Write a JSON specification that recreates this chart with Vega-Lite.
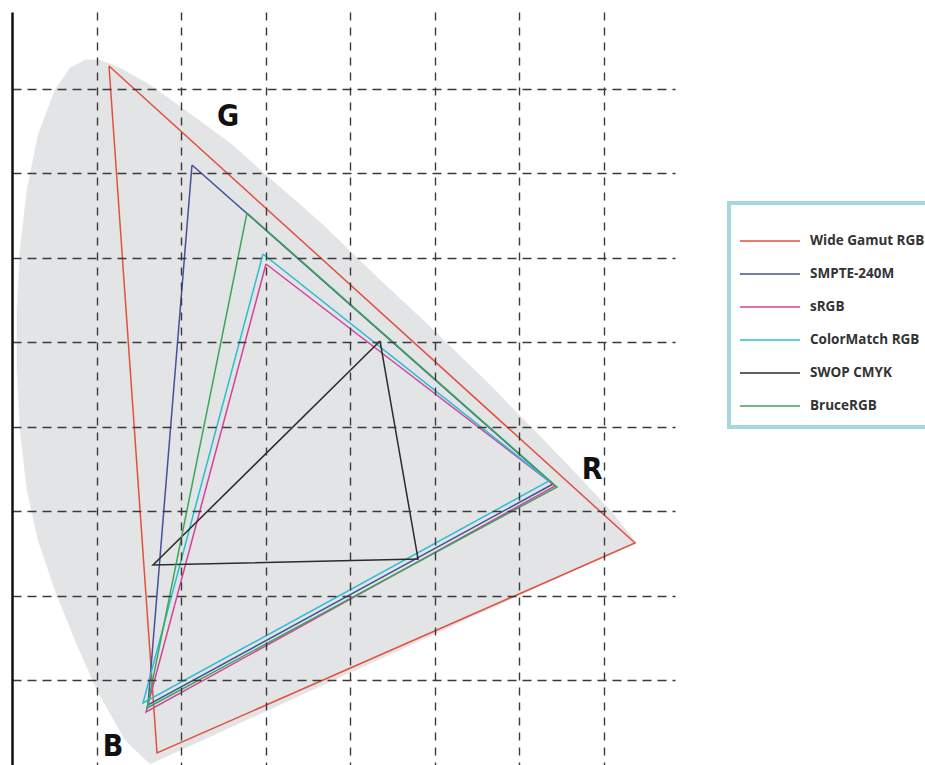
{
  "$schema": "https://vega.github.io/schema/vega-lite/v6.json",
  "width": 663,
  "height": 753,
  "autosize": {"type": "none"},
  "padding": {"left": 12, "top": 12, "right": 250, "bottom": 0},
  "background": "white",
  "config": {
    "view": {"stroke": null}
  },
  "datasets": {
    "locus": [
      {"i": 0, "x": 0.1633, "y": 0.0012},
      {"i": 1, "x": 0.1337, "y": 0.0296},
      {"i": 2, "x": 0.1006, "y": 0.0888},
      {"i": 3, "x": 0.0746, "y": 0.1479},
      {"i": 4, "x": 0.0509, "y": 0.2071},
      {"i": 5, "x": 0.0308, "y": 0.2663},
      {"i": 6, "x": 0.0178, "y": 0.3254},
      {"i": 7, "x": 0.0095, "y": 0.3964},
      {"i": 8, "x": 0.0059, "y": 0.4675},
      {"i": 9, "x": 0.0059, "y": 0.5385},
      {"i": 10, "x": 0.0095, "y": 0.6095},
      {"i": 11, "x": 0.0178, "y": 0.6805},
      {"i": 12, "x": 0.0308, "y": 0.7456},
      {"i": 13, "x": 0.0509, "y": 0.7988},
      {"i": 14, "x": 0.0686, "y": 0.8249},
      {"i": 15, "x": 0.0864, "y": 0.8343},
      {"i": 16, "x": 0.1041, "y": 0.8343},
      {"i": 17, "x": 0.1278, "y": 0.8249},
      {"i": 18, "x": 0.1633, "y": 0.8047},
      {"i": 19, "x": 0.2012, "y": 0.7775},
      {"i": 20, "x": 0.2580, "y": 0.7361},
      {"i": 21, "x": 0.3006, "y": 0.6982},
      {"i": 22, "x": 0.3645, "y": 0.6426},
      {"i": 23, "x": 0.4355, "y": 0.5740},
      {"i": 24, "x": 0.4864, "y": 0.5266},
      {"i": 25, "x": 0.5657, "y": 0.4497},
      {"i": 26, "x": 0.6521, "y": 0.3609},
      {"i": 27, "x": 0.7077, "y": 0.3018},
      {"i": 28, "x": 0.7385, "y": 0.2639},
      {"i": 29, "x": 0.1633, "y": 0.0012}
    ],
    "gamuts": [
      {"series": "Wide Gamut RGB", "i": 0, "x": 0.1148, "y": 0.8272},
      {"series": "Wide Gamut RGB", "i": 1, "x": 0.7373, "y": 0.2627},
      {"series": "Wide Gamut RGB", "i": 2, "x": 0.1716, "y": 0.0142},
      {"series": "Wide Gamut RGB", "i": 3, "x": 0.1148, "y": 0.8272},
      {"series": "SMPTE-240M", "i": 0, "x": 0.2130, "y": 0.7101},
      {"series": "SMPTE-240M", "i": 1, "x": 0.6402, "y": 0.3325},
      {"series": "SMPTE-240M", "i": 2, "x": 0.1609, "y": 0.0710},
      {"series": "SMPTE-240M", "i": 3, "x": 0.2130, "y": 0.7101},
      {"series": "sRGB", "i": 0, "x": 0.3006, "y": 0.5929},
      {"series": "sRGB", "i": 1, "x": 0.6426, "y": 0.3302},
      {"series": "sRGB", "i": 2, "x": 0.1586, "y": 0.0627},
      {"series": "sRGB", "i": 3, "x": 0.3006, "y": 0.5929},
      {"series": "ColorMatch RGB", "i": 0, "x": 0.2970, "y": 0.6047},
      {"series": "ColorMatch RGB", "i": 1, "x": 0.6355, "y": 0.3361},
      {"series": "ColorMatch RGB", "i": 2, "x": 0.1550, "y": 0.0734},
      {"series": "ColorMatch RGB", "i": 3, "x": 0.2970, "y": 0.6047},
      {"series": "SWOP CMYK", "i": 0, "x": 0.4355, "y": 0.5018},
      {"series": "SWOP CMYK", "i": 1, "x": 0.4805, "y": 0.2438},
      {"series": "SWOP CMYK", "i": 2, "x": 0.1669, "y": 0.2367},
      {"series": "SWOP CMYK", "i": 3, "x": 0.4355, "y": 0.5018},
      {"series": "BruceRGB", "i": 0, "x": 0.2781, "y": 0.6533},
      {"series": "BruceRGB", "i": 1, "x": 0.6450, "y": 0.3290},
      {"series": "BruceRGB", "i": 2, "x": 0.1598, "y": 0.0675},
      {"series": "BruceRGB", "i": 3, "x": 0.2781, "y": 0.6533}
    ],
    "labels": [
      {"label": "G", "x": 0.2556, "y": 0.7669},
      {"label": "R", "x": 0.6864, "y": 0.3491},
      {"label": "B", "x": 0.1195, "y": 0.0213}
    ]
  },
  "layer": [
    {
      "data": {"name": "locus"},
      "mark": {"type": "line", "fill": "#e3e4e6", "stroke": "#e3e4e6", "strokeWidth": 0.5},
      "encoding": {
        "x": {"field": "x", "type": "quantitative", "scale": {"domain": [0, 0.7846], "nice": false, "zero": false},
              "axis": {"values": [0.1, 0.2, 0.3, 0.4, 0.5, 0.6, 0.7], "domain": false, "grid": true, "labels": false, "ticks": false, "title": null,
                       "gridColor": "#3a3a3a", "gridDash": [8, 7], "gridWidth": 1.4, "gridOpacity": 1, "zindex": 1}},
        "y": {"field": "y", "type": "quantitative", "scale": {"domain": [0, 0.8911], "nice": false, "zero": false},
              "axis": {"values": [0.1, 0.2, 0.3, 0.4, 0.5, 0.6, 0.7, 0.8], "domain": true, "domainColor": "#111", "domainWidth": 2.5, "grid": true, "labels": false, "ticks": false, "title": null,
                       "gridColor": "#3a3a3a", "gridDash": [9, 6], "gridWidth": 1.4, "gridOpacity": 1, "zindex": 1}},
        "order": {"field": "i", "type": "quantitative"}
      }
    },
    {
      "data": {"name": "gamuts"},
      "mark": {"type": "line", "strokeWidth": 1.5},
      "encoding": {
        "x": {"field": "x", "type": "quantitative"},
        "y": {"field": "y", "type": "quantitative"},
        "order": {"field": "i", "type": "quantitative"},
        "color": {
          "field": "series", "type": "nominal",
          "scale": {
            "domain": ["Wide Gamut RGB", "SMPTE-240M", "sRGB", "ColorMatch RGB", "SWOP CMYK", "BruceRGB"],
            "range": ["#e4503d", "#43519a", "#d6409a", "#2bbdd2", "#2b2b2b", "#3aa65b"]
          },
          "legend": {
            "orient": "none", "legendX": 717, "legendY": 191,
            "title": " ", "titleFontSize": 2, "titlePadding": 6,
            "symbolType": "M-2,0H2", "symbolSize": 900, "symbolStrokeWidth": 1.5, "symbolOffset": 11,
            "labelFont": "Open Sans", "labelFontSize": 13.5, "labelFontWeight": "bold", "labelColor": "#333",
            "labelOffset": 24, "rowPadding": 10,
            "padding": 14, "strokeColor": "#a4d8df", "fillColor": "white",
            "encode": {"legend": {"update": {"strokeWidth": {"value": 4}}}}
          }
        }
      }
    },
    {
      "data": {"name": "labels"},
      "mark": {"type": "text", "font": "DejaVu Sans Condensed, Liberation Sans Narrow, sans-serif", "fontWeight": "bold", "fontSize": 30, "color": "#111", "baseline": "middle", "align": "center"},
      "encoding": {
        "x": {"field": "x", "type": "quantitative"},
        "y": {"field": "y", "type": "quantitative"},
        "text": {"field": "label"}
      }
    }
  ]
}
